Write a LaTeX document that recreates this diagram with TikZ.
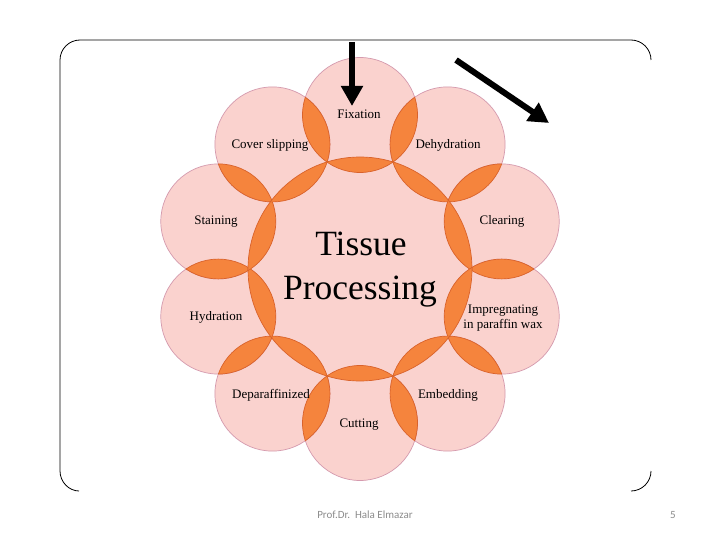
\documentclass[tikz,border=0pt]{standalone}
\usepackage{fontspec}
\setmainfont{Liberation Serif}
\newfontfamily\footfont{Carlito}
\usetikzlibrary{arrows.meta}
\definecolor{petal}{HTML}{FAD2CE}
\definecolor{petaledge}{HTML}{D59AAE}
\definecolor{lensfill}{HTML}{F5843D}
\definecolor{lensedge}{HTML}{D9622B}
\definecolor{footgray}{HTML}{8C8C8C}
\tikzset{
  petalcircle/.style={fill=petal,draw=petaledge,line width=0.7pt},
  lensline/.style={draw=lensedge,line width=0.7pt},
  steplabel/.style={font=\fontsize{13}{14.5}\selectfont,align=center,inner sep=0pt},
  titlelabel/.style={font=\fontsize{35.5}{42}\selectfont,inner sep=0pt},
  bigarrow/.style={line width=6pt,-{Triangle[length=20pt,width=21pt]}},
  frameline/.style={line width=0.8pt},
  footer/.style={font=\footfont\fontsize{11}{13}\selectfont,text=footgray,inner sep=0pt}
}
\begin{document}
\begin{tikzpicture}[x=1pt,y=-1pt]
\useasboundingbox (0,0) rectangle (720,540);
\fill[white] (0,0) rectangle (720,540);

% frame
\draw[frameline] (79,491) .. controls (69,491) and (60,482) .. (60,471) -- (60,60)
  .. controls (60,49) and (69,40) .. (80,40) -- (631,40)
  .. controls (642,40) and (651,49) .. (651,60);
\draw[frameline] (651,471) .. controls (651,482) and (642,491) .. (631,491);

% geometry
\coordinate (hub) at (360,269);
\foreach \k in {0,...,9} {
  \pgfmathsetmacro\ang{90-36*\k}
  \coordinate (p\k) at ({360+149*cos(\ang)},{269-154*sin(\ang)});
}

% petals
\foreach \k in {0,...,9} {\path[petalcircle] (p\k) circle (57.5pt);}
\fill[petal] (hub) circle (112pt);

% lenses
\foreach \k in {0,...,9} {
  \pgfmathtruncatemacro\n{mod(\k+1,10)}
  \begin{scope}
    \clip (p\k) circle (57.5pt);
    \fill[lensfill] (p\n) circle (57.5pt);
    \path[lensline] (p\n) circle (57.5pt);
  \end{scope}
  \begin{scope}
    \clip (p\n) circle (57.5pt);
    \path[lensline] (p\k) circle (57.5pt);
  \end{scope}
  \begin{scope}
    \clip (p\k) circle (57.5pt);
    \fill[lensfill] (hub) circle (112pt);
    \path[lensline] (hub) circle (112pt);
  \end{scope}
  \begin{scope}
    \clip (hub) circle (112pt);
    \path[lensline] (p\k) circle (57.5pt);
  \end{scope}
}

% labels
\node[steplabel] (fixation) at (359,114) {Fixation};
\node[steplabel] (dehydration) at (448,145) {Dehydration};
\node[steplabel] (clearing) at (502,221) {Clearing};
\node[steplabel] (impregnating) at (503,318) {Impregnating\\in paraffin wax};
\node[steplabel] (embedding) at (448,395) {Embedding};
\node[steplabel] (cutting) at (359,425) {Cutting};
\node[steplabel] (deparaffinized) at (271,395) {Deparaffinized};
\node[steplabel] (hydration) at (216,317) {Hydration};
\node[steplabel] (staining) at (216,222) {Staining};
\node[steplabel] (coverslipping) at (270,145) {Cover slipping};

\node[titlelabel] (tissue) at (361,244) {Tissue};
\node[titlelabel] (processing) at (360,292) {Processing};

% arrows
\coordinate (arrowAstart) at (352,42);
\coordinate (arrowAend) at (352,106);
\draw[bigarrow] (arrowAstart) -- (arrowAend);
\coordinate (arrowBstart) at (456,60);
\coordinate (arrowBend) at (549,123);
\draw[bigarrow] (arrowBstart) -- (arrowBend);

% footer
\node[footer] (author) at (365,515) {Prof.Dr.\ \ Hala Elmazar};
\node[footer] (pagenum) at (673,515) {5};
\end{tikzpicture}
\end{document}
